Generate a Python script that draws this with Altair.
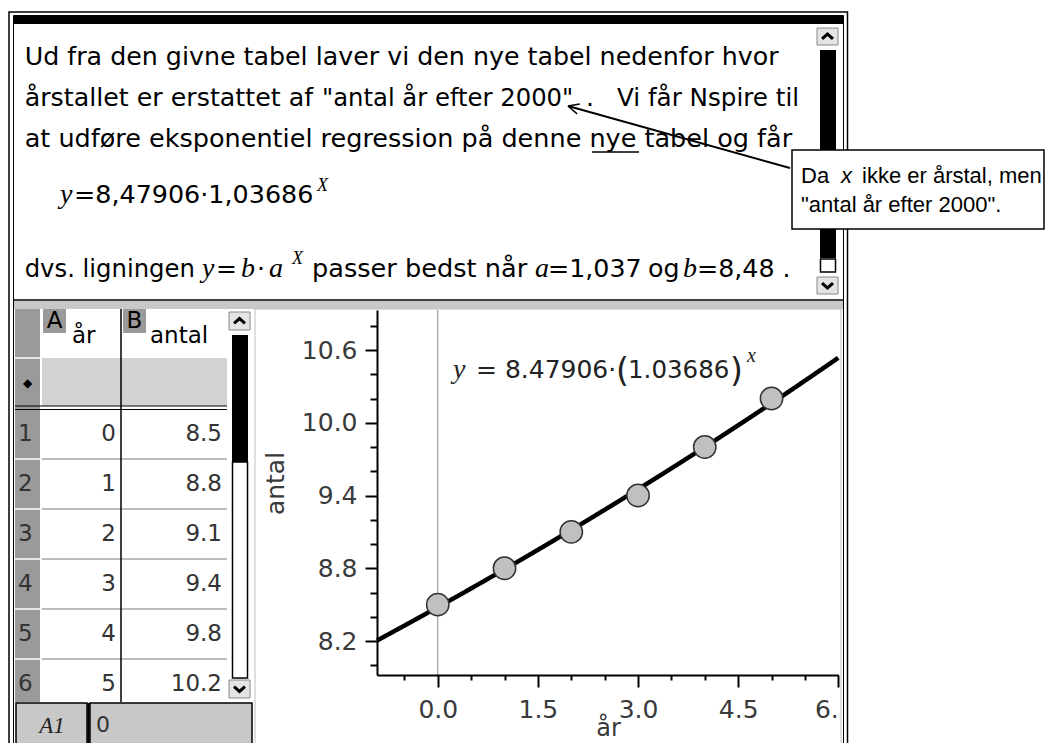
import math
import altair as alt
import pandas as pd

# ---------------- data ----------------
aar = [0, 1, 2, 3, 4, 5]
antal = [8.5, 8.8, 9.1, 9.4, 9.8, 10.2]
rows = [1, 2, 3, 4, 5, 6]
b_coef = 8.47906
a_coef = 1.03686
x_domain = [-0.91, 6.0]
y_domain = [7.92, 10.93]
x_ticks = [-0.5, 0.0, 0.5, 1.0, 1.5, 2.0, 2.5, 3.0, 3.5, 4.0, 4.5, 5.0, 5.5, 6.0]
y_ticks = [8.0, 8.2, 8.4, 8.6, 8.8, 9.0, 9.2, 9.4, 9.6, 9.8, 10.0, 10.2, 10.4, 10.6, 10.8]

df = pd.DataFrame({"aar": aar, "antal": antal, "row": rows})

# ---------------- layout helpers (page pixels -> chart pixels) ----------------
OX, OY = 8, 8
W, H = 1037, 735
SANS = "DejaVu Sans"
SERIF = "Liberation Serif"
one = pd.DataFrame({"k": [0]})


def R(x1, y1, x2, y2, fill="white", stroke=None, sw=1.0):
    props = {"fill": fill}
    if stroke is not None:
        props["stroke"] = stroke
        props["strokeWidth"] = sw
    return alt.Chart(one).mark_rect(**props).encode(
        x=alt.value(x1 - OX), x2=alt.value(x2 - OX),
        y=alt.value(y1 - OY), y2=alt.value(y2 - OY))


def L(x1, y1, x2, y2, color="black", sw=1.0):
    return alt.Chart(one).mark_rule(color=color, strokeWidth=sw).encode(
        x=alt.value(x1 - OX), x2=alt.value(x2 - OX),
        y=alt.value(y1 - OY), y2=alt.value(y2 - OY))


def T(x, y, s, size=25, font=SANS, color="black", align="left",
      baseline="alphabetic", style="normal"):
    return alt.Chart(one).mark_text(
        text=s, fontSize=size, font=font, color=color, align=align,
        baseline=baseline, fontStyle=style).encode(
        x=alt.value(x - OX), y=alt.value(y - OY))


def CH(x, y, up=True):
    shape = "M-1,0.45L0,-0.45L1,0.45" if up else "M-1,-0.45L0,0.45L1,-0.45"
    return alt.Chart(one).mark_point(
        shape=shape, size=120, filled=False, stroke="black", strokeWidth=3,
        opacity=1).encode(x=alt.value(x - OX), y=alt.value(y - OY))


layers = []
# outer frame
layers += [
    R(9, 12, 847.5, 749, fill="white", stroke="black", sw=1.5),
    R(13.5, 15.5, 843.5, 746.5, fill="white", stroke="black", sw=1),
    R(14, 16, 843, 24, fill="black"),
    L(14, 300, 843, 300, sw=1.5),
    R(14, 301, 843, 309, fill="#c8c8c8"),
]
# top text-panel scrollbar
layers += [
    R(817, 28, 838, 45, fill="#e4e4e4", stroke="#888888", sw=1),
    CH(827.5, 36.5, True),
    R(820, 50, 836, 258, fill="black"),
    R(820.5, 259, 835.5, 272, fill="white", stroke="black", sw=1.5),
    R(817, 277, 838, 294, fill="#e4e4e4", stroke="#888888", sw=1),
    CH(827.5, 285.5, False),
]
# graph panel
layers += [R(255, 309, 841, 747, fill="white", stroke="#c0c0c0", sw=1)]

# table panel
row_lines = [459, 509, 559, 609, 659]
layers += [
    R(15, 309, 40, 702, fill="#9a9a9a"),
    R(42, 358, 227, 406, fill="#d2d2d2"),
    R(43, 309, 66, 333, fill="#9a9a9a"),
    R(123, 309, 146, 333, fill="#9a9a9a"),
    L(15, 358, 40, 358, color="white", sw=1.5),
]
for yl in row_lines:
    layers += [L(42, yl, 227, yl, color="#a8a8a8", sw=1.5),
               L(15, yl, 40, yl, color="white", sw=1.5)]
layers += [
    L(15, 406, 227, 406, sw=1.2),
    L(15, 409.5, 227, 409.5, sw=1.2),
    L(121, 309, 121, 702, sw=1.5),
    # table scrollbar
    R(229, 312, 250, 330, fill="#e4e4e4", stroke="#888888", sw=1),
    CH(239.5, 321, True),
    R(232, 335, 248, 462, fill="black"),
    R(232.5, 462, 247.5, 678, fill="white", stroke="black", sw=1.5),
    R(229, 680, 250, 698, fill="#e4e4e4", stroke="#888888", sw=1),
    CH(239.5, 689, False),
    # bottom cell bar
    R(16, 703, 87, 748, fill="#c8c8c8", stroke="black", sw=1.5),
    R(90, 703, 252, 748, fill="#c8c8c8", stroke="black", sw=1.5),
    L(88.5, 703, 88.5, 748, sw=2.5),
    T(52, 726, "A1", size=23, font=SERIF, style="italic", align="center",
      baseline="middle", color="#222222"),
    T(96, 725, "0", size=22, color="#333333", baseline="middle"),
    T(54.5, 321, "A", size=23, align="center", baseline="middle"),
    T(134.5, 321, "B", size=23, align="center", baseline="middle"),
    T(72, 343, "år", size=23),
    T(150, 343, "antal", size=23),
    T(27.5, 383, "◆", size=12, align="center", baseline="middle"),
]

# ---------------- graph (data driven) ----------------
x_major = "round(datum.value * 2) % 3 == 0"
y_major = "round(datum.value * 10) % 6 == 4"
axis_common = dict(
    grid=False, domainColor="black", domainWidth=2, tickColor="black",
    tickWidth=2, labelFont=SANS, labelFontSize=25, labelColor="#3a3a3a",
    titleFont=SANS, titleFontWeight="normal",
    titleColor="#3a3a3a", labelOverlap=False, zindex=1,
)
x_axis = alt.Axis(
    orient="bottom", offset=(675 - OY - H), values=x_ticks, title="år",
    labelExpr=f"{x_major} ? (datum.value >= 6 ? '6.' : format(datum.value, '.1f')) : ''",
    tickSize={"condition": {"test": x_major, "value": 12}, "value": 5},
    labelPadding=10, titleX=600, titleY=53, titleBaseline="middle",
    titleAlign="center", titleFontSize=24, **axis_common)
y_axis = alt.Axis(
    orient="left", offset=-(377 - OX), values=y_ticks, title="antal",
    labelExpr=f"{y_major} ? format(datum.value, '.1f') : ''",
    tickSize={"condition": {"test": y_major, "value": 12}, "value": 7},
    labelPadding=8, titleX=-102, titleY=475, titleBaseline="middle",
    titleAlign="center", titleAngle=-90, titleFontSize=25, **axis_common)
xs = alt.Scale(domain=x_domain, range=[377 - OX, 838.3 - OX])
ys = alt.Scale(domain=y_domain, range=[675 - OY, 310 - OY])

vline = alt.Chart(one).mark_rule(color="#8a8a8a", strokeWidth=1).encode(
    x=alt.X(datum=0, type="quantitative", scale=xs, axis=x_axis),
    y=alt.Y(datum=y_domain[0], type="quantitative", scale=ys, axis=y_axis),
    y2=alt.Y2(datum=y_domain[1]),
)
curve = alt.Chart(alt.sequence(x_domain[0], x_domain[1] + 0.005, 0.01, as_="x")).transform_calculate(
    y=f"{b_coef} * pow({a_coef}, datum.x)"
).mark_line(color="black", strokeWidth=4.5).encode(
    x=alt.X("x:Q", scale=xs, axis=x_axis),
    y=alt.Y("y:Q", scale=ys, axis=y_axis),
)
points = alt.Chart(df).mark_point(
    shape="circle", filled=True, size=500, fill="#c0c0c0", stroke="#333333",
    strokeWidth=1.5, opacity=1).encode(
    x=alt.X("aar:Q", scale=xs, axis=x_axis),
    y=alt.Y("antal:Q", scale=ys, axis=y_axis),
)
graph = alt.layer(vline, curve, points)

# ---------------- table values (data driven) ----------------
row_scale = alt.Scale(domain=[rows[0], rows[-1]], range=[434 - OY, 684 - OY])
tbl_text = dict(font=SANS, fontSize=23, color="#333333", baseline="middle")
t_rows = alt.Chart(df).mark_text(align="left", **tbl_text).encode(
    x=alt.value(18 - OX), y=alt.Y("row:Q", scale=row_scale, axis=None),
    text=alt.Text("row:Q", format="d"))
t_a = alt.Chart(df).mark_text(align="right", **tbl_text).encode(
    x=alt.value(116 - OX), y=alt.Y("row:Q", scale=row_scale, axis=None),
    text=alt.Text("aar:Q", format="d"))
t_b = alt.Chart(df).mark_text(align="right", **tbl_text).encode(
    x=alt.value(222 - OX), y=alt.Y("row:Q", scale=row_scale, axis=None),
    text=alt.Text("antal:Q", format=".1f"))
table = alt.layer(t_rows, t_a, t_b)

# ---------------- text panel ----------------
texts = [
    T(24.7, 65, "Ud fra den givne tabel laver vi den nye tabel nedenfor hvor", size=25.3),
    T(24.7, 106, "årstallet er erstattet af", size=25.3),
    T(322, 106, "\"antal år efter 2000\"", size=24.3),
    T(586, 106, ".", size=25.3),
    T(617, 106, "Vi får Nspire til", size=24.6),
    T(24.7, 147, "at udføre eksponentiel regression på denne nye tabel og får", size=25.5),
    L(592, 152, 639, 152, sw=1.3),
    T(60, 203, "y", size=28, font=SERIF, style="italic"),
    T(74, 203, "=8,47906·1,03686", size=25.4),
    T(317, 191, "X", size=18, font=SERIF, style="italic"),
    T(24.7, 277, "dvs. ligningen", size=24.3),
    T(202, 277, "y", size=28, font=SERIF, style="italic"),
    T(216, 277, "=", size=25),
    T(241, 277, "b", size=28, font=SERIF, style="italic"),
    T(257, 277, "·", size=25),
    T(269, 277, "a", size=28, font=SERIF, style="italic"),
    T(292, 264, "X", size=18, font=SERIF, style="italic"),
    T(312, 277, "passer bedst når", size=25.6),
    T(535, 277, "a", size=28, font=SERIF, style="italic"),
    T(548, 277, "=1,037", size=25.3),
    T(648, 277, "og", size=25.3),
    T(683, 277, "b", size=28, font=SERIF, style="italic"),
    T(697, 277, "=8,48 .", size=25.3),
    # graph equation
    T(453, 378, "y", size=28, font=SERIF, style="italic", color="#222222"),
    T(476, 378, "= 8.47906·", size=25, color="#222222"),
    T(616, 382, "(", size=33, color="#222222"),
    T(628, 378, "1.03686", size=24.5, color="#222222"),
    T(730, 382, ")", size=33, color="#222222"),
    T(747, 362, "x", size=20, font=SERIF, style="italic", color="#222222"),
]

# ---------------- callout + arrow ----------------
tx, ty, hx, hy = 790, 168, 568, 106
d = math.hypot(tx - hx, ty - hy)
ux, uy = (tx - hx) / d, (ty - hy) / d
heads = []
for ang in (math.radians(25), math.radians(-25)):
    vx = ux * math.cos(ang) - uy * math.sin(ang)
    vy = ux * math.sin(ang) + uy * math.cos(ang)
    heads.append(L(hx, hy, hx + 12 * vx, hy + 12 * vy, sw=1.5))
callout = [
    L(tx, ty, hx, hy, sw=2),
    *heads,
    R(792, 150, 1044, 229, fill="white", stroke="black", sw=1.5),
    T(801, 183, "Da", size=22, font="Liberation Sans"),
    T(841, 183, "x", size=22, font="Liberation Sans", style="italic"),
    T(862, 183, "ikke er årstal, men", size=22, font="Liberation Sans"),
    T(801, 212, "\"antal år efter 2000\".", size=22, font="Liberation Sans"),
]

chart = alt.layer(*layers, graph, table, *texts, *callout).resolve_scale(
    x="independent", y="independent"
).properties(
    width=W, height=H, padding=0, autosize="none"
).configure_view(stroke=None)

chart.save("out.html", embed_options={"renderer": "svg", "actions": False})
